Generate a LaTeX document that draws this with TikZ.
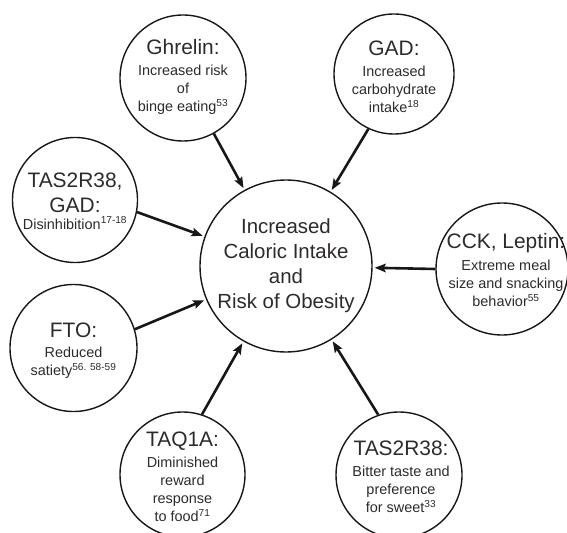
\documentclass[tikz,border=0pt]{standalone}
\usepackage{fontspec}
\setmainfont{Liberation Sans}
\usetikzlibrary{arrows.meta}
\definecolor{ink}{RGB}{25,22,23}
\definecolor{txtc}{RGB}{45,42,43}
\newcommand\bigt[1]{{\fontsize{21}{25}\selectfont #1}}
\tikzset{
  bub/.style={circle, draw=ink, line width=1.4bp, inner sep=0pt, minimum size=#1},
  txt/.style={align=center, text=txtc, font=\fontsize{14.5}{18}\selectfont, inner sep=0pt},
  arr/.style={draw=ink, line width=2.6bp, -{Stealth[length=11bp,width=8.5bp,inset=2bp]}, shorten >=2bp},
}
\begin{document}
\begin{tikzpicture}[x=1bp,y=-1bp]
\useasboundingbox (0,0) rectangle (567,533);
% bubbles
\node[bub=172bp] (ctr)  at (286,266) {};
\node[bub=126bp] (ghr)  at (183,78) {};
\node[bub=120bp] (gad)  at (394,74) {};
\node[bub=125bp] (tasg) at (75,200) {};
\node[bub=132bp] (cck)  at (502,269) {};
\node[bub=127bp] (fto)  at (73.5,348) {};
\node[bub=125bp] (taq)  at (182.5,474.5) {};
\node[bub=126bp] (tas)  at (399,475) {};
% texts
\node[txt, font=\fontsize{20.5}{25}\selectfont] (ctrT) at (ctr) {Increased\\Caloric Intake\\and\\Risk of Obesity};
\node[txt] (ghrT) at (183,77) {\bigt{Ghrelin:}\\[3bp]Increased risk\\of\\binge eating\textsuperscript{53}};
\node[txt] (gadT) at (394,77) {\bigt{GAD:}\\[3bp]Increased\\carbohydrate\\intake\textsuperscript{18}};
\node[txt] (tasgT) at (75,201) {\bigt{TAS2R38,}\\[7bp]\bigt{GAD:}\\[-1bp]Disinhibition\textsuperscript{17-18}};
\node[txt] (cckT) at (506,270) {\bigt{CCK, Leptin:}\\[4bp]Extreme meal\\size and snacking\\behavior\textsuperscript{55}};
\node[txt] (ftoT) at (73.5,351) {\bigt{FTO:}\\[2bp]Reduced\\satiety\textsuperscript{56. 58-59}};
\node[txt] (taqT) at (182.5,477) {\bigt{TAQ1A:}\\[3bp]Diminished\\reward\\response\\to food\textsuperscript{71}};
\node[txt] (tasT) at (401,477) {\bigt{TAS2R38:}\\[3bp]Bitter taste and\\preference\\for sweet\textsuperscript{33}};
% arrows
\draw[arr] (ghr.-61) -- (ctr);
\draw[arr] (gad.-115) -- (ctr);
\draw[arr] (tasg.-11) -- (ctr);
\draw[arr] (cck.west) -- (ctr);
\draw[arr] (fto.17) -- (ctr);
\draw[arr] (taq.72) -- (ctr);
\draw[arr] (tas.109) -- (ctr);
\end{tikzpicture}
\end{document}
